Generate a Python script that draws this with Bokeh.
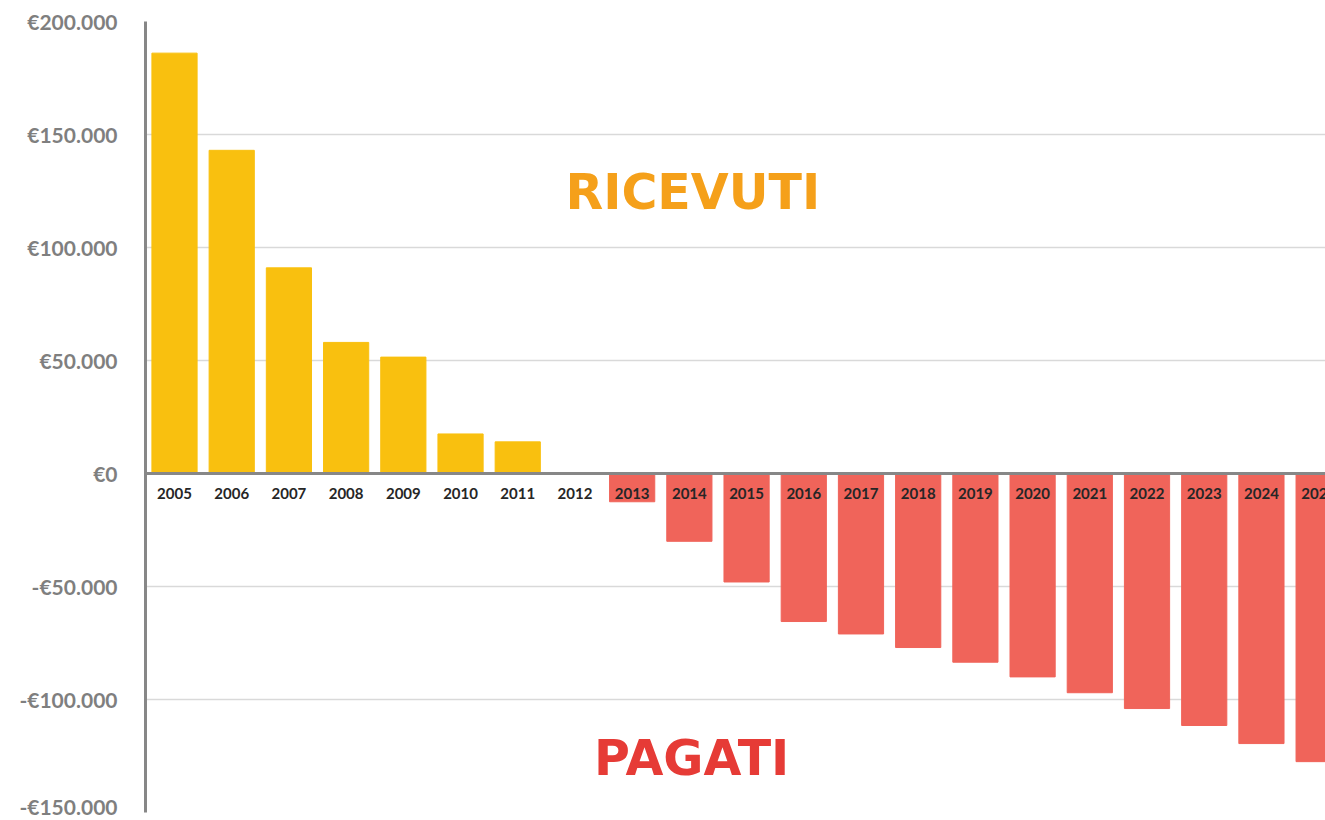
from bokeh.plotting import figure
from bokeh.models import Range1d, FixedTicker, Span, Label, ColumnDataSource
from bokeh.core.properties import value
from bokeh.embed import file_html
from bokeh.resources import INLINE

years = [str(y) for y in range(2005, 2026)]
amounts = [186000, 143000, 91000, 58000, 51500, 17500, 14000, 0,
           -12500, -30000, -48000, -65500, -71000, -77000, -83500,
           -90000, -97000, -104000, -111500, -119500, -127500]
y_ticks = [-150000, -100000, -50000, 0, 50000, 100000, 150000, 200000]
y_tick_labels = ["-€150.000", "-€100.000", "-€50.000", "€0",
                 "€50.000", "€100.000", "€150.000", "€200.000"]

POS_COLOR = "#F9C00F"
NEG_COLOR = "#F0645A"

idx = list(range(len(years)))
colors = [POS_COLOR if v >= 0 else NEG_COLOR for v in amounts]
src = ColumnDataSource(dict(x=idx, top=amounts, color=colors, year=years,
                            zero=[0] * len(years)))

p = figure(width=1325, height=818, output_backend="svg", toolbar_location=None,
           x_range=Range1d(-0.507, 20.12), y_range=Range1d(-150000, 200000),
           min_border_left=145, min_border_right=0, min_border_top=21,
           min_border_bottom=6)
p.outline_line_color = None
p.background_fill_color = "white"
p.border_fill_color = "white"

p.vbar(x="x", top="top", bottom=0, width=0.79, color="color", source=src)

p.text(x="x", y="zero", text="year", source=src, y_offset=20,
       text_align="center", text_baseline="middle",
       text_font=value("Lato"), text_font_style="bold",
       text_font_size="15px", text_color="#262626")

p.add_layout(Span(location=0, dimension="width", line_color="#878787", line_width=3))

p.xaxis.visible = False
p.xgrid.visible = False
p.ygrid.grid_line_color = "#D9D9D9"
p.ygrid.grid_line_width = 1.5

ya = p.yaxis[0]
ya.ticker = FixedTicker(ticks=y_ticks)
ya.major_label_overrides = {t: l for t, l in zip(y_ticks, y_tick_labels)}
ya.axis_line_color = "#878787"
ya.axis_line_width = 3
ya.major_tick_line_color = None
ya.minor_tick_line_color = None
ya.major_label_standoff = 22
ya.major_label_text_font = "Lato"
ya.major_label_text_font_style = "bold"
ya.major_label_text_font_size = "21px"
ya.major_label_text_color = "#7F7F7F"

p.add_layout(Label(x=9.06, y=124500, text="RICEVUTI", text_align="center",
                   text_baseline="middle", text_font="DejaVu Sans",
                   text_font_style="bold", text_font_size="49px",
                   text_color="#F5A01A"))
p.add_layout(Label(x=9.04, y=-126000, text="PAGATI", text_align="center",
                   text_baseline="middle", text_font="DejaVu Sans",
                   text_font_style="bold", text_font_size="49px",
                   text_color="#E63B36"))

open("out.html", "w").write(file_html(p, INLINE))
